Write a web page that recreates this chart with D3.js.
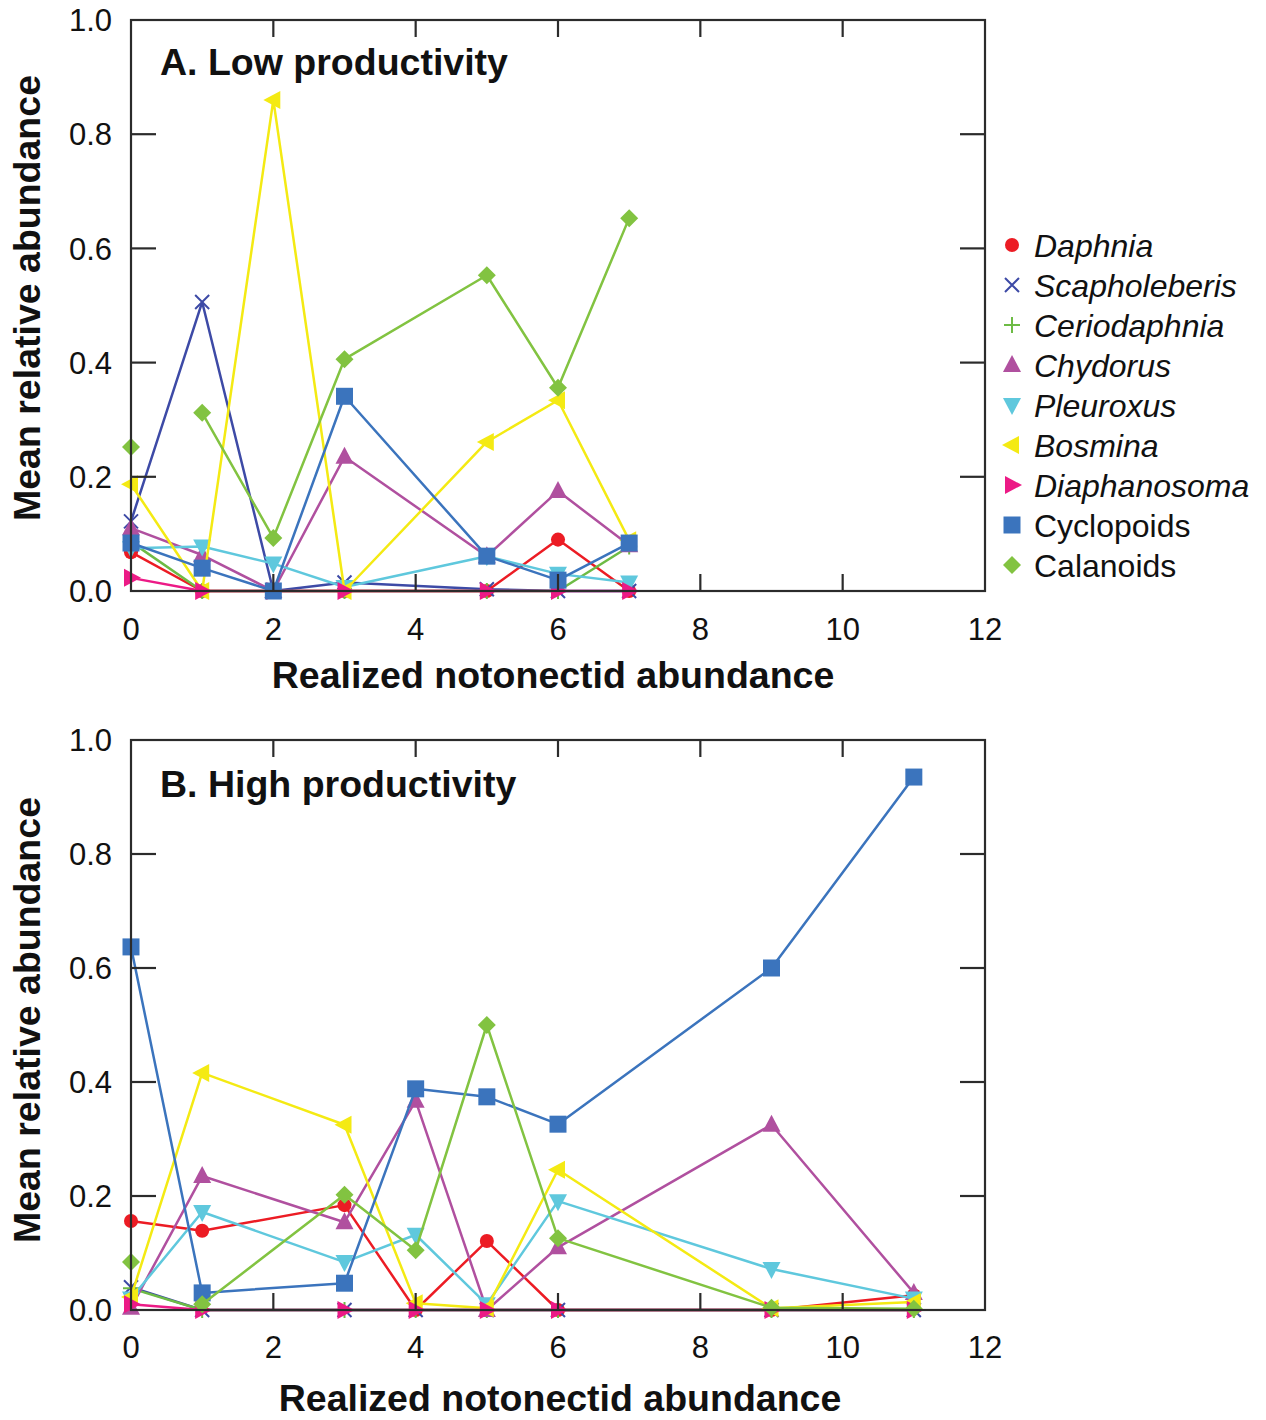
<!DOCTYPE html>
<html>
<head>
<meta charset="utf-8">
<script src="https://cdn.jsdelivr.net/npm/d3@7"></script>
<style>
  body { margin: 0; background: #fff; }
  svg { display: block; }
  text { font-family: "Liberation Sans", Arial, Helvetica, sans-serif; fill: #111; }
</style>
</head>
<body>
<div id="chart"></div>
<script>
// Notonectid abundance vs zooplankton relative abundance

const species = ['Daphnia', 'Scapholeberis', 'Ceriodaphnia', 'Chydorus', 'Pleuroxus',
  'Bosmina', 'Diaphanosoma', 'Cyclopoids', 'Calanoids'];
const italicSpecies = ['Daphnia', 'Scapholeberis', 'Ceriodaphnia', 'Chydorus', 'Pleuroxus',
  'Bosmina', 'Diaphanosoma'];

const xTicks = [0, 2, 4, 6, 8, 10, 12];
const yTicks = [0, 0.2, 0.4, 0.6, 0.8, 1.0];

// A. Low productivity
const lowX = [0, 1, 2, 3, 5, 6, 7];
const lowDaphnia      = [0.068, 0, 0, 0, 0, 0.090, 0];
const lowScapholeberis = [0.122, 0.506, 0, 0.015, 0.003, 0, 0];
const lowCeriodaphnia = [0.086, 0, 0, 0, 0, 0, 0.078];
const lowChydorus     = [0.110, 0.063, 0, 0.235, 0.061, 0.175, 0.080];
const lowPleuroxus    = [0.075, 0.078, 0.048, 0.007, 0.061, 0.030, 0.015];
const lowBosmina      = [0.187, 0, 0.860, 0, 0.261, 0.334, 0.089];
const lowDiaphanosoma = [0.023, 0, 0, 0, 0, 0, 0];
const lowCyclopoids   = [0.084, 0.040, 0, 0.341, 0.061, 0.019, 0.084];
const lowCalanoids    = [0.252, 0.312, 0.093, 0.406, 0.553, 0.356, 0.653];

// B. High productivity
const highX = [0, 1, 3, 4, 5, 6, 9, 11];
const highDaphnia      = [0.156, 0.139, 0.184, 0, 0.121, 0, 0, 0.026];
const highScapholeberis = [0.040, 0, 0, 0, 0, 0, 0, 0];
const highCeriodaphnia = [0.038, 0, 0, 0, 0, 0, 0, 0];
const highChydorus     = [0.004, 0.235, 0.154, 0.367, 0, 0.110, 0.325, 0.030];
const highPleuroxus    = [0.020, 0.172, 0.084, 0.132, 0.010, 0.191, 0.072, 0.020];
const highBosmina      = [0.023, 0.416, 0.325, 0.012, 0.003, 0.246, 0.003, 0.014];
const highDiaphanosoma = [0.010, 0, 0, 0, 0, 0, 0, 0];
const highCyclopoids   = [0.637, 0.030, 0.047, 0.388, 0.374, 0.326, 0.600, 0.935];
const highCalanoids    = [0.084, 0.010, 0.202, 0.105, 0.500, 0.126, 0.004, 0.002];

// series whose first point is not joined to the rest
const unjoinedFirst = ['Calanoids'];

const lowSeries = [lowDaphnia, lowScapholeberis, lowCeriodaphnia, lowChydorus, lowPleuroxus,
  lowBosmina, lowDiaphanosoma, lowCyclopoids, lowCalanoids];
const highSeries = [highDaphnia, highScapholeberis, highCeriodaphnia, highChydorus, highPleuroxus,
  highBosmina, highDiaphanosoma, highCyclopoids, highCalanoids];

const colors = {
  Daphnia: '#ec1c24',
  Scapholeberis: '#3d4aa6',
  Ceriodaphnia: '#6dbb45',
  Chydorus: '#b0509f',
  Pleuroxus: '#5fc8dd',
  Bosmina: '#f4ea13',
  Diaphanosoma: '#ec1a86',
  Cyclopoids: '#3b74bd',
  Calanoids: '#82c341'
};
const shapes = {
  Daphnia: 'circle', Scapholeberis: 'x', Ceriodaphnia: 'plus', Chydorus: 'triUp',
  Pleuroxus: 'triDown', Bosmina: 'triLeft', Diaphanosoma: 'triRight',
  Cyclopoids: 'square', Calanoids: 'diamond'
};

const W = 1266, H = 1420;
const left = 131, right = 985;

const svg = d3.select('#chart').append('svg')
  .attr('width', W).attr('height', H);

const x = d3.scaleLinear().domain([0, 12]).range([left, right]);

// marker path, centred on 0,0
function markerPath(shape) {
  switch (shape) {
    case 'circle': return d3.symbol(d3.symbolCircle, 155)();
    case 'square': return 'M-8.5,-8.5H8.5V8.5H-8.5Z';
    case 'diamond': return 'M0,-9L9,0L0,9L-9,0Z';
    case 'triUp': return 'M0,-10L9,7L-9,7Z';
    case 'triDown': return 'M0,10L9,-7L-9,-7Z';
    case 'triLeft': return 'M-10,0L7,-9L7,9Z';
    case 'triRight': return 'M10,0L-7,-9L-7,9Z';
    case 'x': return 'M-7,-7L7,7M-7,7L7,-7';
    case 'plus': return 'M-8,0H8M0,-8V8';
  }
}

function drawMarker(g, name, cx, cy) {
  const shape = shapes[name];
  const p = g.append('path')
    .attr('d', markerPath(shape))
    .attr('transform', `translate(${cx},${cy})`);
  if (shape === 'x' || shape === 'plus') {
    p.attr('fill', 'none').attr('stroke', colors[name]).attr('stroke-width', 2);
  } else {
    p.attr('fill', colors[name]);
  }
}

function drawPanel(top, bottom, xs, series, title, titleY, tickY, xTitleY, xTitleX, yTitleY) {
  const y = d3.scaleLinear().domain([0, 1]).range([bottom, top]);
  const g = svg.append('g');

  // data
  series.forEach((vals, si) => {
    const name = species[si];
    const pts = xs.map((xv, i) => [x(xv), y(vals[i])]);
    const linePts = unjoinedFirst.includes(name) ? pts.slice(1) : pts;
    g.append('path')
      .attr('d', d3.line()(linePts))
      .attr('fill', 'none')
      .attr('stroke', colors[name])
      .attr('stroke-width', 2.5)
      .attr('stroke-linejoin', 'round');
    pts.forEach(p => drawMarker(g, name, p[0], p[1]));
  });

  // frame
  svg.append('rect')
    .attr('x', left).attr('y', top)
    .attr('width', right - left).attr('height', bottom - top)
    .attr('fill', 'none').attr('stroke', '#2b2b2b').attr('stroke-width', 2.2);

  // ticks, all inward
  const tk = svg.append('g').attr('stroke', '#2b2b2b').attr('stroke-width', 2.2);
  xTicks.slice(1, -1).forEach(t => {
    tk.append('line').attr('x1', x(t)).attr('x2', x(t)).attr('y1', bottom).attr('y2', bottom - 17);
    tk.append('line').attr('x1', x(t)).attr('x2', x(t)).attr('y1', top).attr('y2', top + 17);
  });
  yTicks.slice(1, -1).forEach(t => {
    tk.append('line').attr('x1', left).attr('x2', left + 25).attr('y1', y(t)).attr('y2', y(t));
    tk.append('line').attr('x1', right).attr('x2', right - 25).attr('y1', y(t)).attr('y2', y(t));
  });

  // tick labels
  xTicks.forEach(t => {
    svg.append('text')
      .attr('x', x(t)).attr('y', tickY)
      .attr('text-anchor', 'middle')
      .attr('font-size', 31)
      .text(t);
  });
  yTicks.forEach(t => {
    svg.append('text')
      .attr('x', 112).attr('y', y(t))
      .attr('dy', '0.36em')
      .attr('text-anchor', 'end')
      .attr('font-size', 31)
      .text(t.toFixed(1));
  });

  // titles
  svg.append('text')
    .attr('x', 160).attr('y', titleY)
    .attr('font-size', 37.5).attr('font-weight', 'bold')
    .text(title);
  svg.append('text')
    .attr('x', xTitleX).attr('y', xTitleY)
    .attr('text-anchor', 'middle')
    .attr('font-size', 37.5).attr('font-weight', 'bold')
    .text('Realized notonectid abundance');
  svg.append('text')
    .attr('transform', `translate(40,${yTitleY}) rotate(-90)`)
    .attr('text-anchor', 'middle')
    .attr('font-size', 37.5).attr('font-weight', 'bold')
    .text('Mean relative abundance');
}

drawPanel(20, 591, lowX, lowSeries, 'A. Low productivity', 75, 640, 688, 553, 298);
drawPanel(740, 1310, highX, highSeries, 'B. High productivity', 797, 1358, 1411, 560, 1020);

// legend
const legend = svg.append('g');
species.forEach((name, i) => {
  const cy = 245 + i * 40;
  drawMarker(legend, name, 1012, cy);
  legend.append('text')
    .attr('x', 1034).attr('y', cy)
    .attr('dy', '0.36em')
    .attr('font-size', 32)
    .attr('font-style', italicSpecies.includes(name) ? 'italic' : 'normal')
    .text(name);
});
</script>
</body>
</html>
